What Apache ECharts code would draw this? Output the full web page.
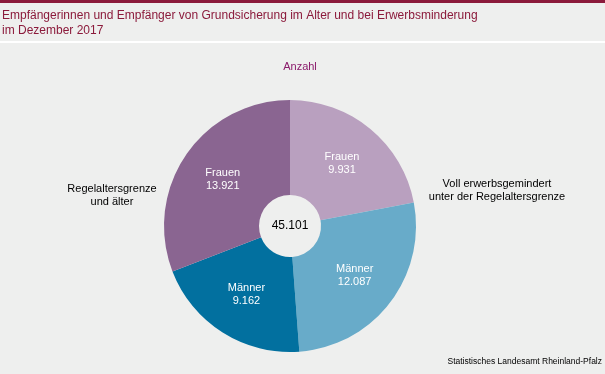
<!DOCTYPE html>
<html><head><meta charset="utf-8">
<script src="https://cdn.jsdelivr.net/npm/echarts@6/dist/echarts.min.js"></script>
<style>html,body{margin:0;padding:0;background:#eeefee;}#c{width:605px;height:374px;}</style>
</head><body><div id="c"></div>
<script>
const titleLines = ['Empfängerinnen und Empfänger von Grundsicherung im Alter und bei Erwerbsminderung', 'im Dezember 2017'];
const unitLabel = 'Anzahl';
const categories = ['Frauen', 'Männer', 'Männer', 'Frauen'];
const values = [9931, 12087, 9162, 13921];
const groupLabels = ['Voll erwerbsgemindert\nunter der Regelaltersgrenze', 'Regelaltersgrenze\nund älter'];
const sourceText = 'Statistisches Landesamt Rheinland-Pfalz';
const colors = ['#b9a0bf', '#68abc9', '#02709f', '#8a6591'];

const fmt = v => String(v).replace(/\B(?=(\d{3})+(?!\d))/g, '.');
const total = values.reduce((a, b) => a + b, 0);
const font = 'Liberation Sans, Arial, sans-serif';

const chart = echarts.init(document.getElementById('c'));
chart.setOption({
  backgroundColor: '#eeefee',
  animation: false,
  graphic: [
    {type: 'rect', shape: {x: 0, y: 0, width: 605, height: 3}, style: {fill: '#8b1a3b'}},
    {type: 'rect', shape: {x: 0, y: 41, width: 605, height: 2}, style: {fill: '#ffffff'}},
    {type: 'text', left: 2, top: 8, style: {text: titleLines.join('\n'), font: '12px ' + font, fill: '#8b1a3b', lineHeight: 15}},
    {type: 'text', x: 300, y: 67, style: {text: unitLabel, font: '11px ' + font, fill: '#8b1a6b', align: 'center', verticalAlign: 'middle'}},
    {type: 'text', x: 497, y: 190, style: {text: groupLabels[0], font: '11px ' + font, fill: '#000', align: 'center', verticalAlign: 'middle', lineHeight: 13}},
    {type: 'text', x: 112, y: 195, style: {text: groupLabels[1], font: '11px ' + font, fill: '#000', align: 'center', verticalAlign: 'middle', lineHeight: 13}},
    {type: 'text', x: 290, y: 226, style: {text: fmt(total), font: '12px ' + font, fill: '#000', align: 'center', verticalAlign: 'middle'}},
    {type: 'text', right: 3, top: 357, style: {text: sourceText, font: '8.5px ' + font, fill: '#000'}}
  ],
  series: [{
    type: 'pie',
    center: [290, 226],
    radius: [31, 126],
    startAngle: 90,
    clockwise: true,
    silent: true,
    itemStyle: {borderWidth: 0},
    label: {
      position: 'inside',
      color: '#fff',
      fontFamily: font,
      fontSize: 11,
      lineHeight: 13,
      formatter: p => p.name + '\n' + fmt(p.value)
    },
    labelLine: {show: false},
    data: values.map((v, i) => ({name: categories[i], value: v, itemStyle: {color: colors[i]}}))
  }]
});
</script></body></html>
